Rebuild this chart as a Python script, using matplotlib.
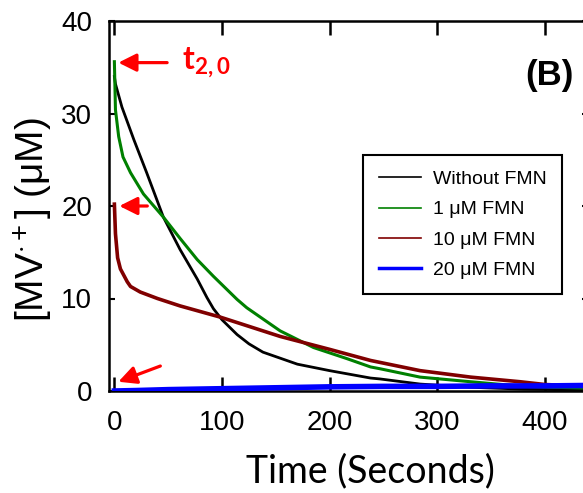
import numpy as np
import matplotlib
matplotlib.use('Agg')
import matplotlib.pyplot as plt

plt.rcParams['font.family'] = ['Liberation Sans', 'DejaVu Sans']
plt.rcParams['mathtext.fontset'] = 'custom'
plt.rcParams['mathtext.rm'] = 'Liberation Sans'
plt.rcParams['mathtext.it'] = 'Liberation Sans:italic'
plt.rcParams['mathtext.bf'] = 'Lato:bold'

# Datos (tiempo en s, concentracion en uM)
t_sin = [0, 1, 7, 18, 30, 45.5, 61, 77, 86, 92, 100, 114, 125, 138, 170, 200, 238, 247, 284, 331, 380, 440]
y_sin = [34.0, 33.2, 30.7, 27.2, 23.6, 18.8, 15.3, 12.1, 10.1, 8.9, 7.7, 6.1, 5.1, 4.2, 2.9, 2.2, 1.4, 1.3, 0.75, 0.4, 0.2, 0.1]

t_1 = [0, 1, 4, 8, 15, 27, 45.5, 61, 77, 92, 114, 123, 154, 185, 216, 238, 247, 284, 331, 380, 440]
y_1 = [35.6, 30.4, 27.5, 25.3, 23.6, 21.3, 18.8, 16.5, 14.2, 12.4, 9.9, 9.0, 6.5, 4.7, 3.5, 2.6, 2.4, 1.5, 1.0, 0.5, 0.3]

t_10 = [0, 1, 3, 5.6, 12, 15, 24, 40, 61, 98, 154, 200, 238, 284, 331, 377, 400, 440]
y_10 = [20.2, 17.0, 14.4, 13.2, 11.8, 11.3, 10.7, 10.0, 9.2, 8.0, 5.9, 4.5, 3.3, 2.2, 1.5, 1.0, 0.7, 0.5]

t_20 = [0, 20, 50, 100, 150, 200, 250, 300, 350, 400, 440]
y_20 = [0.0, 0.05, 0.15, 0.25, 0.35, 0.45, 0.5, 0.5, 0.55, 0.55, 0.6]

series = [
    ('Without FMN', t_sin, y_sin, 'black', 2.0, 1.2),
    (u'1 \u03bcM FMN', t_1, y_1, '#008000', 2.2, 1.2),
    (u'10 \u03bcM FMN', t_10, y_10, '#800000', 2.6, 1.2),
    (u'20 \u03bcM FMN', t_20, y_20, '#0000ff', 4.0, 2.5),
]

fig = plt.figure(figsize=(5.83, 4.93), dpi=100)
ax = fig.add_axes([109/583, 102/493, (588-109)/583, (391-21)/493])

handles = []
for nombre, t, y, c, lw, lw_leg in series:
    ax.plot(t, y, color=c, lw=lw, zorder=3, clip_on=True)
    h, = ax.plot([], [], color=c, lw=lw_leg, label=nombre)
    handles.append(h)

ax.set_xlim(-5, 440)
ax.set_ylim(0, 40)
ax.set_xticks([0, 100, 200, 300, 400])
ax.set_yticks([0, 10, 20, 30, 40])
for s in ax.spines.values():
    s.set_linewidth(1.8)
ax.tick_params(axis='x', direction='in', top=True, length=10, width=1.8,
               labelsize=20, pad=14)
ax.tick_params(axis='y', direction='in', right=True, length=4.5, width=1.5,
               labelsize=20, pad=12)

fig.text(33/583, 1 - 220/493, u'[MV$^{\\cdot+}$] (\u03bcM)', rotation=90,
         ha='center', va='center', fontsize=28)
fig.text(370/583, 1 - 482/493, 'Time (Seconds)', family='Lato',
         ha='center', va='baseline', fontsize=27)
fig.text(549/583, 1 - 76/493, '(B)', fontweight='bold', ha='center',
         va='center', fontsize=25)

leg = ax.legend(handles=handles, loc='upper left',
                bbox_to_anchor=(363/583, 1 - 155/493),
                bbox_transform=fig.transFigure, fontsize=14,
                frameon=True, fancybox=False, framealpha=1, edgecolor='black',
                borderpad=0.8, labelspacing=0.65, handlelength=2.2,
                handletextpad=0.6, borderaxespad=0)
leg.get_frame().set_linewidth(1.5)

# Flechas rojas
flechas = [((3.7, 35.5), (49, 35.5)), ((4.6, 20.0), (30.6, 20.0)), ((3.7, 1.0), (42.7, 2.7))]
for cabeza, cola in flechas:
    ax.annotate('', xy=cabeza, xytext=cola,
                arrowprops=dict(arrowstyle='-|>', color='red', lw=2.3,
                                mutation_scale=27, shrinkA=0, shrinkB=0),
                zorder=5)
ax.text(63, 34.7, r'$\mathbf{t_{2,0}}$', color='red', fontsize=23,
        ha='left', va='baseline')

fig.savefig('out.png', dpi=100)
